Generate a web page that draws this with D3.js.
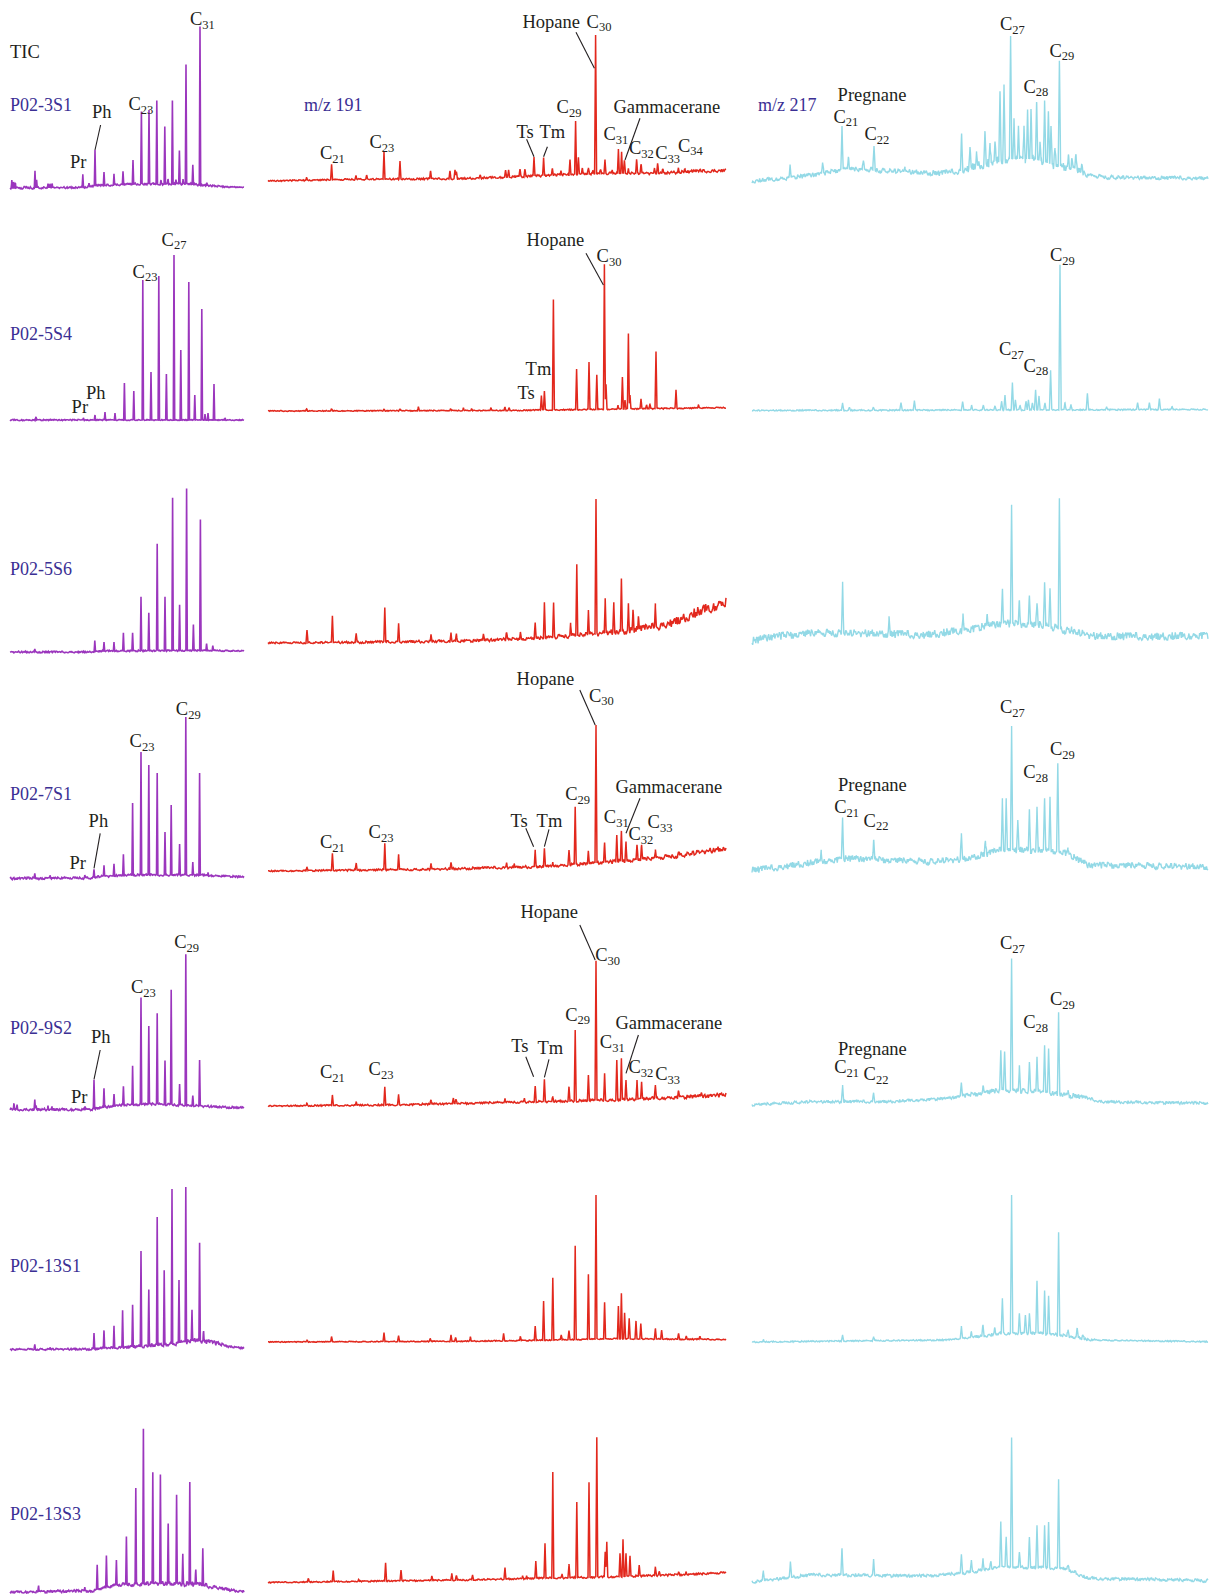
<!DOCTYPE html>
<html>
<head>
<meta charset="utf-8">
<script src="https://cdn.jsdelivr.net/npm/d3@7"></script>
<style>
  body { margin: 0; background: #fff; }
  svg { display: block; }
  text { font-family: "Liberation Serif", "Times New Roman", serif; }
</style>
</head>
<body>
<svg id="chart" width="1209" height="1594"></svg>
<script>

// samples, one row each
var samples = ["P02-3S1", "P02-5S4", "P02-5S6", "P02-7S1", "P02-9S2", "P02-13S1", "P02-13S3"];

// peaks: [retention index, abundance above baseline]
var ticPeaks = [
  [[0.9,8],[1.8,6],[2.6,5],[12.5,17],[13.3,7],[19,4],[20,4],[21,4],[36.4,13],[39.5,3],[42.5,36],[47,13.5],[52,11],[56.5,13],[61.5,24],[65.7,72.6],[69.5,74],[73.4,83.6],[75.5,4],[77.4,57.6],[79,5],[81.2,83.6],[83,4],[84.7,33.6],[86.5,5],[88,119.5],[91.4,19.5],[95,158.5],[98.4,3]],
  [[13,3],[36.7,2],[42.5,5],[47.5,8],[52.5,7],[57.2,37],[61.9,29],[66.4,140],[70.5,48],[74.4,144],[78.2,46],[82,165],[85.4,70],[89.4,138],[92.4,25],[95.9,111],[97.5,6],[99,7],[102,36],[107.5,2]],
  [[12.4,3],[42.4,11],[47,9],[52,9],[56.7,18],[61.3,18],[65.5,54],[69.4,38],[73.6,107],[77.5,54],[81.3,153],[84.8,46],[88.3,162],[91.7,26],[95.2,131],[98.3,7],[101.4,5]],
  [[12.4,5],[20,3],[37.4,3],[42,8],[47,11],[52,12],[56.7,21],[61.3,72],[65.5,123],[69.4,110],[73.6,102],[77.5,43],[80.6,70],[84.8,31],[87.9,158],[91.4,13],[94.8,102],[99,3]],
  [[2,6],[3.5,4],[12.4,10],[13,4],[19,4],[21,3],[37.4,3],[42,29],[47,19],[52,12],[56.7,19],[61.3,39],[65.5,107],[69.4,78],[73.6,91],[77.5,44],[80.6,115],[84.8,21],[87.9,151],[91.4,10],[94.8,46]],
  [[12.4,5],[20,2],[42,16],[47,18],[52,22],[56.3,37],[61.3,42],[65.5,95],[69.4,56],[73.6,128],[77.1,74],[81,154],[84.5,63],[87.9,155],[91,31],[94.8,98],[96.8,10]],
  [[14.3,6],[23.9,2],[37.4,4],[43.6,25],[48.2,32],[53.2,25],[58.2,48],[62.9,96],[66.7,155],[71.4,111],[75.2,109],[79.1,60],[83.3,89],[86.4,30],[89.9,102],[92.9,15],[96.4,37]]
];

var m191Peaks = [
  [[19.3,3],[31.8,15.5],[44,4],[49.3,4],[58,27.5],[66,18],[81.3,8],[91,8],[93.5,9],[94.2,7],[106,3],[118.8,7],[120.3,7],[126,7.5],[128.5,7],[133,19],[137.8,18],[142.2,7],[146.5,4],[151,15],[153.8,53.5],[155.2,17],[157.2,6],[160.2,6],[162.5,3],[163.8,138.7],[166.3,4],[168.5,14],[172,3],[175.2,24.4],[176.8,21.7],[178.2,13],[180.2,5],[184.3,14],[186.5,9],[193.3,4],[194.8,9.7],[197.5,4],[205.2,4.3],[208.5,3],[216,2]],
  [[19.3,2],[31.8,2],[58,1.5],[66,1.5],[75.2,4],[91.3,2],[97.7,3],[101.8,2],[111.5,3],[118.5,3.5],[120.5,3],[136.7,14.5],[138.2,19],[142.7,110.5],[154.3,40.5],[160.5,47.5],[164.4,34.5],[168.2,145],[169,25],[175,4],[177.2,32],[178.5,9],[180.2,75.5],[181,14],[186.5,10],[189.3,4],[191,5],[194,57],[204,18.5],[215.2,3]],
  [[19.5,12.7],[32.2,26.8],[44.1,9],[58.4,34.4],[65.3,18],[81.5,7],[91.5,8.5],[94.2,7.5],[107.7,6.3],[119.3,7],[126.2,7],[133.6,16],[138.2,35.7],[142.8,34.7],[151.3,13],[154.4,71],[160.2,24.4],[164,134.8],[168.6,34.7],[172.9,30],[176.7,53],[180.2,27.7],[182.5,20.5],[185.2,13],[193.7,23.4]],
  [[19.5,3.3],[32.2,17],[44.1,7],[58.4,26.6],[65.3,15.4],[81.5,6],[91.5,6.5],[119.3,5],[123.1,3.5],[133.6,17],[138.2,18.2],[142.4,3.7],[150.5,14.8],[153.6,57.7],[160.2,11.8],[164,138],[168.3,20],[174.4,26.7],[176.7,30.3],[179,19.3],[184.5,15],[186.8,14.6],[193.7,6.4],[205.3,3]],
  [[19.5,2.5],[32.2,10.5],[44.1,3.5],[58.4,18.3],[65.3,10.5],[81.5,4.3],[92.7,5.5],[94,4],[118.5,4.2],[128.2,4],[133.6,15.8],[138.2,22.3],[142.4,5],[150.5,14.3],[153.6,70.9],[160.2,25.6],[164,139.7],[168.3,27],[174.4,40],[176.7,41.5],[179,19.5],[184.5,19],[186.8,17],[193.7,13.2],[205.3,6.4],[216.8,3]],
  [[19.5,2],[31.8,5],[58,9],[65.3,6],[81.1,3],[91.5,6.5],[93.8,4],[101.2,4.5],[117.8,7.5],[126.2,4],[133.6,14.4],[137.8,39.2],[142.4,62.3],[146.6,5],[150.5,9],[153.6,93.8],[160.2,65],[164,144],[168.3,36.6],[175.2,32.7],[176.7,45.4],[178.3,26],[180.6,20.4],[184,17.7],[186.4,15.4],[193.7,10.6],[196.8,9],[205.3,5.7],[209.1,3],[216,3]],
  [[20.2,3.7],[32.6,11.2],[45.3,2],[58.8,18.3],[66.5,10.8],[81.9,4.4],[91.9,6.8],[94.2,4.5],[102.3,4.8],[118.5,11.4],[127.3,3],[129.3,3],[133.9,17.4],[138.5,34.9],[142.4,106],[147,4],[150.5,13.7],[154.4,75.5],[160.5,95],[164.4,139.8],[168.6,25.2],[169.4,35.2],[176,23.3],[177.5,37.3],[179,23],[181,20.5],[185.6,11],[193.7,8.8],[195.6,4],[205.3,3],[209.1,3]]
];

var m217Peaks = [
  [[19,12],[35.3,11],[45,43.3],[48.2,12.3],[55.7,9],[61,24],[76.5,5],[104.8,37],[109,21],[112.3,12.7],[116.5,32],[119,19.7],[121.5,20],[124,69],[126,75],[129.3,123],[131,40.7],[133.2,31],[136,33.3],[137.8,49],[139.5,50],[142.3,57.8],[144,19],[146.3,61.7],[148.2,52],[149.5,38],[151.5,15],[153.7,105],[158.2,12.7],[160,9],[162,15],[165,8]],
  [[45.3,7],[48.7,3],[60.7,3],[74.5,7.5],[81.2,9.5],[105.3,8.5],[109.8,5],[115.7,5],[121.5,4],[124.8,8.5],[126.5,15],[130.2,27.5],[131.7,10],[134,5],[137,8.5],[138.2,10],[140.2,7],[141.8,20],[143.5,13.5],[146.5,7],[149.3,39.5],[154,145],[156.5,7],[159.5,5],[167.7,16.5],[177.3,3],[192.8,7],[198.7,7],[203.7,11],[210,3]],
  [[45.3,51.6],[68.5,14],[105.5,16.7],[117.5,11],[125.2,33.3],[129.8,116],[133.7,23.8],[138.7,29],[142.5,21.5],[146.3,43.8],[149,38.7],[153.7,130.7],[159.8,5]],
  [[34.6,11.5],[45.3,40.7],[60.8,19],[104.7,26.2],[116.7,13.3],[125.2,51.7],[127.1,51.7],[129.8,124],[132.9,30],[138.7,40.7],[142.5,43.3],[146.3,52],[149,54],[152.9,88],[158,4]],
  [[45.3,16.7],[60.8,9],[104.7,13.2],[115.5,7.3],[124.4,40],[126.3,38.5],[129.8,130],[133.7,25.4],[138.7,29.3],[142.5,34.8],[146.3,47],[148.3,44.2],[153.3,81.7],[158,5]],
  [[5.7,2],[45.3,6],[60.8,4],[104.7,12.5],[109.7,5.6],[115.5,11],[121.3,6.2],[125.2,35],[129.8,138.3],[133.7,20],[136.7,18.3],[138.7,20],[142.5,52.6],[146.3,43],[148.3,38.3],[153.3,102.8],[158,6.5],[162.6,9.7],[165.5,4]],
  [[5.7,10],[19.2,15.8],[45,26.7],[60.8,16.3],[104.7,19.2],[109.7,12],[115.5,11.7],[119.4,6.8],[124.4,45.3],[127.1,30],[129.8,129.5],[133.7,15],[138.7,30.3],[142.5,42.3],[146.3,42.6],[148.3,46],[153.3,88.8],[158,5],[161.8,2.3]]
];

// baseline drift / unresolved hump: [retention index, abundance]
var ticBase = [
  [[0,0],[35,0.5],[42,2],[60,4],[90,4],[100,2],[117,0.5]],
  [[0,0],[117,0]],
  [[0,0],[40,0],[45,1],[100,1.5],[117,1]],
  [[0,0],[40,0.5],[45,2],[60,3.5],[95,3.5],[117,1.5]],
  [[0,0],[40,0],[46,2],[54,4],[70,5.5],[90,4],[117,1.5]],
  [[0,0],[42,0.5],[55,2],[70,4],[85,6.5],[92,9],[100,8],[107,4],[117,1]],
  [[0,0],[41,1],[53,7],[72,8.7],[91,8],[103,5],[110,2],[118,0.5]]
];
var m191Base = [
  [[0,0],[46,1.7],[96,2.3],[129,4.7],[163,7.3],[196,8],[229,10.7]],
  [[0,0],[120,0.5],[229,3.3]],
  [[0,0],[50,0.8],[97,2],[136,4.7],[167,9.7],[180,12],[194,16.3],[205,22],[213,29.7],[222,36],[229,42]],
  [[0,0],[78,1.5],[136,4.3],[174,9.3],[201,14.3],[229,22.7]],
  [[0,0],[60,1],[136,4.3],[174,6],[229,11]],
  [[0,0],[97,0.7],[136,1.7],[174,3.3],[229,2.5]],
  [[0,0],[97,2.5],[136,4.2],[174,5.8],[213,8.2],[229,9.8]]
];
var m217Base = [
  [[0,0],[19,3.3],[36,7.7],[46,12],[61,11],[77,9.3],[94,7.7],[104,10],[114,16],[127,22],[141,22],[151,16],[161,13],[167,6],[177,3.7],[228,2.7]],
  [[0,0],[228,1]],
  [[0,0],[9.5,4.3],[29,7.7],[60,7.7],[87,6],[106,11],[125,17.7],[144,16],[160,9.3],[171,5],[202,4.3],[228,6]],
  [[0,0],[9.5,1.7],[33,8.3],[48,11.7],[87,8.3],[106,10.7],[125,20],[144,20],[156,18.3],[168,5],[228,3.3]],
  [[0,0],[29,3.3],[67,3.3],[98,6.7],[125,15],[144,13.3],[164,8.3],[175,3.3],[228,1.7]],
  [[0,0],[48,1],[98,2],[110,4.7],[125,8.7],[145,8.7],[160,5.3],[168,2],[228,0.3]],
  [[0,0],[29,7],[48,7],[87,6],[106,8.7],[125,15.3],[156,13.7],[168,3.7],[228,1.3]]
];

// noise level along the run: [retention index, amplitude]
var ticNoise = [
  [[0,1.5],[25,0.8],[40,1],[100,1],[117,0.3]],
  [[0,0.6],[117,0.4]],
  [[0,0.8],[117,0.6]],
  [[0,1.2],[117,0.8]],
  [[0,1.2],[117,1]],
  [[0,0.8],[50,1],[70,2],[100,2.5],[110,1],[117,0.8]],
  [[0,1],[50,1.5],[90,2.5],[110,1.5],[117,1]]
];
var m191Noise = [
  [[0,0.6],[120,1],[229,1.6]],
  [[0,0.4],[229,0.6]],
  [[0,0.8],[130,1.6],[180,3.2],[229,5.5]],
  [[0,0.6],[150,1.4],[229,2.8]],
  [[0,0.6],[150,1.1],[229,2]],
  [[0,0.4],[229,0.6]],
  [[0,0.5],[229,1]]
];
var m217Noise = [
  [[0,2],[100,2.7],[115,4.2],[160,4.2],[170,2],[228,1.7]],
  [[0,0.6],[228,0.6]],
  [[0,3.8],[228,3.8]],
  [[0,3.2],[228,3.2]],
  [[0,1.4],[100,1.4],[115,2.7],[160,2.7],[170,1.4],[228,1.4]],
  [[0,0.6],[105,0.7],[115,1.6],[165,1.6],[175,0.6],[228,0.6]],
  [[0,1.6],[228,1.6]]
];

// baseline ripple texture, hand written digits 0-9
var rippleDigits = ["4813960275","3069148257","7724016935","5190372864","2658471039",
  "8036925147","1497203568","6352817490","0984561327","4271690853",
  "9538014726","3615287904","7802349516","1469573082","5027136849",
  "8391460275","2756908134","6143725980","0589213674","3924851067",
  "7160394528","4835672019","9207148356","1673025894","5418369720",
  "2981507643","6304782195","8752496031","0136859472","3597240186"].join("");

// annotations: [row, text, subscript, retention index, abundance]
var ticLabels = [
  [0,"Pr","",30,20],[0,"Ph","",41,70],[0,"C","23",59.2,78],[0,"C","31",90,163],
  [1,"Pr","",30.8,6.7],[1,"Ph","",38,20.7],[1,"C","23",61.3,142.3],[1,"C","27",75.8,174.3],
  [3,"Pr","",29.7,9.2],[3,"Ph","",39.3,51.8],[3,"C","23",59.8,131.2],[3,"C","29",82.9,163.5],
  [4,"Pr","",30.5,6.8],[4,"Ph","",40.5,66.8],[4,"C","23",60.5,116.2],[4,"C","29",82.1,161.2]
];
var m191Labels = [
  [0,"C","21",26,21.7],[0,"C","23",50.7,32.7],[0,"Ts","",124.3,43.3],[0,"Tm","",135.7,43.3],[0,"C","29",144.3,67.7],
  [0,"Hopane","",127.2,153.3],[0,"C","30",159.3,153.3],[0,"Gammacerane","",172.7,68.3],[0,"C","31",167.7,41],
  [0,"C","32",180.5,26.7],[0,"C","33",193.6,21.7],[0,"C","34",205,29.3],
  [1,"Hopane","",129.3,165.3],[1,"C","30",164.3,148.7],[1,"Tm","",128.8,36],[1,"Ts","",124.7,11.7],
  [3,"C","21",26,22.7],[3,"C","23",50.3,32.7],[3,"Ts","",121.2,44.3],[3,"Tm","",134.3,43.7],[3,"C","29",148.6,71],
  [3,"Hopane","",124.3,186],[3,"C","30",160.5,169.3],[3,"Gammacerane","",173.7,78.3],[3,"C","31",167.9,47.7],
  [3,"C","32",180.2,31],[3,"C","33",189.8,42.7],
  [4,"C","21",26,27.7],[4,"C","23",50.3,31],[4,"Ts","",121.6,54.3],[4,"Tm","",134.7,52],[4,"C","29",148.6,85.3],
  [4,"Hopane","",126.2,187.7],[4,"C","30",163.6,145],[4,"Gammacerane","",173.7,76.7],[4,"C","31",165.9,57.7],
  [4,"C","32",180.2,32.7],[4,"C","33",193.6,26]
];
var m217Labels = [
  [0,"Pregnane","",42.8,80],[0,"C","21",40.7,58.3],[0,"C","22",56.2,41],[0,"C","27",124,151],[0,"C","28",135.7,88.3],[0,"C","29",148.7,124.3],
  [1,"C","29",149,149.5],[1,"C","27",123.5,55.5],[1,"C","28",135.7,38.8],
  [3,"Pregnane","",43,79.3],[3,"C","21",41.1,56.7],[3,"C","22",55.8,43.3],[3,"C","27",124,156.7],[3,"C","28",135.6,91.7],[3,"C","29",149,115],
  [4,"Pregnane","",43,50],[4,"C","21",41.1,31.7],[4,"C","22",55.8,25],[4,"C","27",124,156],[4,"C","28",135.6,76.7],[4,"C","29",149,100]
];

// leader lines: [row, from index, from abundance, to index, to abundance]
var ticLeaders = [[0,45.3,63,42.5,38],[3,45.1,45.2,42,10.2],[4,45.1,59.5,42,30.2]];
var m191Leaders = [
  [0,129.3,41.7,133,24.3],[0,139.7,34.3,137.8,24.3],[0,154,148.7,163.2,112.7],[0,186,62.7,178.5,21],
  [1,159,157.7,167.7,126],
  [3,128.9,42.7,132.8,24.3],[3,140.5,41.7,138.2,24.3],[3,155.9,181,163.6,146],[3,186,72.7,179,37.7],
  [4,128.9,49.3,132.8,29.3],[4,140.5,46.7,138.2,28.7],[4,155.9,181,163.6,146],[4,185.2,71,179,32.7]
];
var m217Leaders = [];

// ---- layout ----
var width = 1209, height = 1594;
var inkBlue = "#3b2f94", ink = "#231f20";

// samples = how many ripple points are laid along the run
var columns = [
  {left: 10,  right: 244,  span: 117, color: "#9b36bd", stroke: 1.6, halfw: 0.35, samples: 300,
   peaks: ticPeaks, base: ticBase, noise: ticNoise, labels: ticLabels, leaders: ticLeaders},
  {left: 268, right: 726,  span: 229, color: "#e2281d", stroke: 1.5, halfw: 0.5, samples: 520,
   peaks: m191Peaks, base: m191Base, noise: m191Noise, labels: m191Labels, leaders: m191Leaders},
  {left: 752, right: 1208, span: 228, color: "#93d9e6", stroke: 1.4, halfw: 0.6, samples: 600,
   peaks: m217Peaks, base: m217Base, noise: m217Noise, labels: m217Labels, leaders: m217Leaders}
];

// bottom of each panel (row x column)
var floors = [
  [188, 181, 181], [420, 411, 410.5], [652, 643, 641], [878.5, 871, 870],
  [1109.5, 1106, 1105], [1349.5, 1342, 1342], [1592, 1582.5, 1582]
];
var sampleY = [111, 340, 575, 800, 1033.5, 1272, 1520];

var svg = d3.select("#chart").attr("viewBox", "0 0 " + width + " " + height);
var ripple = rippleDigits.split("").map(function (c) { return (+c - 4.5) / 4.5; });

function buildTrace(peaks, base, env, span, hw, count, offset) {
  var baseAt = d3.scaleLinear().domain(base.map(function (d) { return d[0]; }))
    .range(base.map(function (d) { return d[1]; })).clamp(true);
  var ampAt = d3.scaleLinear().domain(env.map(function (d) { return d[0]; }))
    .range(env.map(function (d) { return d[1]; })).clamp(true);
  var step = d3.scaleLinear().domain([0, count - 1]).range([0, span]);

  var pts = d3.range(count).map(function (i) {
    return {u: step(i), n: ripple[(i * 7 + offset) % ripple.length]};
  });
  peaks.forEach(function (p) {
    pts.push({u: p[0] - hw, n: 0}, {u: p[0], n: 0}, {u: p[0] + hw, n: 0});
  });
  pts.sort(function (a, b) { return a.u - b.u; });

  return pts.map(function (p) {
    var s = baseAt(p.u) + p.n * ampAt(p.u);
    peaks.forEach(function (k) {
      var d = Math.abs(p.u - k[0]);
      if (d < hw) s += k[1] * (1 - d / hw);
    });
    return [p.u, s];
  });
}

function drawText(x, y, txt, sub, size, color) {
  var t = svg.append("text")
    .attr("x", x).attr("y", y)
    .attr("font-size", size)
    .attr("fill", color)
    .text(txt);
  if (sub) {
    t.append("tspan").attr("font-size", 12.5).attr("dy", 3.5).text(sub);
  }
  return t;
}

columns.forEach(function (col, ci) {
  var x = d3.scaleLinear().domain([0, col.span]).range([col.left, col.right]);

  samples.forEach(function (s, ri) {
    var floor = floors[ri][ci];
    var y = d3.scaleLinear().domain([0, 200]).range([floor, floor - 200]);

    var pts = buildTrace(col.peaks[ri], col.base[ri], col.noise[ri], col.span, col.halfw,
      col.samples, (ri * 53 + ci * 117) % ripple.length);

    svg.append("path")
      .attr("d", d3.line().x(function (d) { return x(d[0]); }).y(function (d) { return y(d[1]); })(pts))
      .attr("fill", "none")
      .attr("stroke", col.color)
      .attr("stroke-width", col.stroke)
      .attr("stroke-linejoin", "miter")
      .attr("stroke-miterlimit", 2);

    col.leaders.filter(function (l) { return l[0] === ri; }).forEach(function (l) {
      svg.append("line")
        .attr("x1", x(l[1])).attr("y1", y(l[2]))
        .attr("x2", x(l[3])).attr("y2", y(l[4]))
        .attr("stroke", ink).attr("stroke-width", 1.1);
    });

    col.labels.filter(function (l) { return l[0] === ri; }).forEach(function (l) {
      drawText(x(l[3]), y(l[4]), l[1], l[2], 18.5, ink);
    });
  });
});

// sample names and column headers
samples.forEach(function (s, ri) {
  drawText(10, sampleY[ri], s, "", 18, inkBlue);
});
drawText(10, 58, "TIC", "", 18.5, ink);
drawText(304, 111, "m/z 191", "", 18, inkBlue);
drawText(758, 111, "m/z 217", "", 18, inkBlue);

</script>
</body>
</html>
